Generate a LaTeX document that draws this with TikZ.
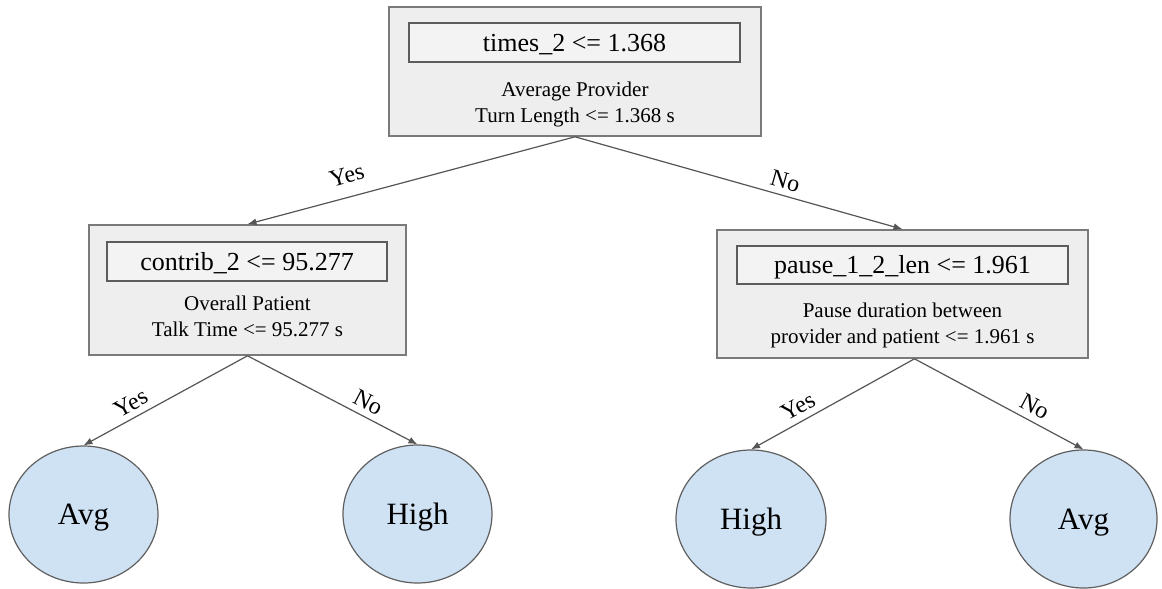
\documentclass[tikz,border=0pt]{standalone}
\usepackage{fontspec}
\setmainfont{Liberation Serif}
\usetikzlibrary{shapes.geometric,arrows.meta}
\definecolor{splitfill}{HTML}{EEEEEE}
\definecolor{splitline}{HTML}{7A7A7A}
\definecolor{testfill}{HTML}{F3F3F3}
\definecolor{testline}{HTML}{5C5C5C}
\definecolor{leaffill}{HTML}{CFE2F3}
\definecolor{leafline}{HTML}{5F5F5F}
\definecolor{edgecol}{HTML}{555555}
\begin{document}
\begin{tikzpicture}[x=1pt,y=-1pt,
  split/.style={draw=splitline, fill=splitfill, line width=1.6pt, inner sep=0pt},
  test/.style={draw=testline, fill=testfill, line width=1.4pt, inner sep=0pt,
    font=\fontsize{26}{30}\selectfont, text height=17pt, text depth=0pt},
  note/.style={align=center, font=\fontsize{21}{26}\selectfont, anchor=base, inner sep=0pt},
  leaf/.style={ellipse, draw=leafline, fill=leaffill, line width=1.2pt, inner sep=0pt,
    font=\fontsize{31}{36}\selectfont, text height=20.5pt, text depth=0pt},
  branch/.style={draw=edgecol, line width=1.2pt, -{Latex[length=9pt,width=7pt]}},
  ans/.style={sloped, above=6pt, inner sep=0pt, font=\fontsize{24}{28}\selectfont}
]
\useasboundingbox (0,0) rectangle (1162,589);

% root split (note nodes are placed by the baseline of their last line)
\node[split, minimum width=372, minimum height=129] (root) at (575,71.5) {};
\node[test, minimum width=331, minimum height=39] (roottest) at (574.5,42.5) {times\_2 <= 1.368};
\node[note] (rootnote) at (575,122) {Average Provider\\Turn Length <= 1.368 s};

% left split
\node[split, minimum width=317, minimum height=130] (lsplit) at (247.5,290) {};
\node[test, minimum width=280, minimum height=39] (ltest) at (247,261.5) {contrib\_2 <= 95.277};
\node[note] (lnote) at (247.5,336) {Overall Patient\\Talk Time <= 95.277 s};

% right split
\node[split, minimum width=371, minimum height=128] (rsplit) at (902.5,294) {};
\node[test, minimum width=331, minimum height=38] (rtest) at (902.5,265) {pause\_1\_2\_len <= 1.961};
\node[note] (rnote) at (902.5,343) {Pause duration between\\provider and patient <= 1.961 s};

% leaves
\node[leaf, minimum width=149, minimum height=137] (leafA) at (83.5,514.5) {Avg};
\node[leaf, minimum width=149, minimum height=138] (leafB) at (417.5,514) {High};
\node[leaf, minimum width=150, minimum height=138] (leafC) at (751,519) {High};
\node[leaf, minimum width=147, minimum height=138] (leafD) at (1083.5,519) {Avg};

\coordinate (rfork) at ([xshift=12pt]rsplit.south);

% branches
\draw[branch] (root.south) -- node[ans, pos=0.68, above=7pt] {Yes} (lsplit.north);
\draw[branch] (root.south) -- node[ans, pos=0.63] {No} (rsplit.north);
\draw[branch] (lsplit.south) -- node[ans, pos=0.67] {Yes} (leafA.north);
\draw[branch] (lsplit.south) -- node[ans, pos=0.67] {No} (leafB.north);
\draw[branch] (rfork) -- node[ans, pos=0.67] {Yes} (leafC.north);
\draw[branch] (rfork) -- node[ans, pos=0.67] {No} (leafD.north);
\end{tikzpicture}
\end{document}
